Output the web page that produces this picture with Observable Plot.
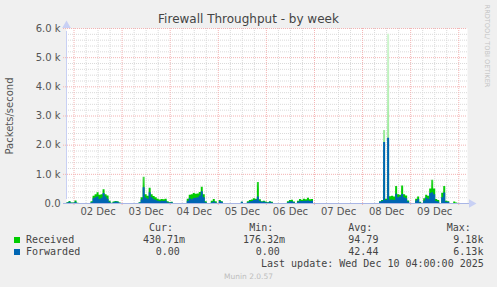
<!DOCTYPE html>
<html><head><meta charset="utf-8">
<script src="https://cdn.jsdelivr.net/npm/d3@7"></script>
<script src="https://cdn.jsdelivr.net/npm/@observablehq/plot@0.6"></script>
<style>
body{margin:0;background:#f0f0f0;}
#wrap{position:relative;width:497px;height:287px;overflow:hidden;background:#f0f0f0;font-family:"DejaVu Sans",sans-serif;}
#wrap svg{position:absolute;left:0;top:0;}
.t{position:absolute;white-space:pre;line-height:10px;}
.mono{font-family:"DejaVu Sans Mono",monospace;font-size:10px;color:#444;}
</style></head><body><div id="wrap"></div>
<script>
// ---- data (packets/second, hourly values, UTC) ----
const seriesNames = ["Received", "Forwarded"];
const seriesColors = ["#00cc00", "#0066b3"];
const dayLabels = ["02 Dec","03 Dec","04 Dec","05 Dec","06 Dec","07 Dec","08 Dec","09 Dec"];
const yTickLabels = ["0.0","1.0 k","2.0 k","3.0 k","4.0 k","5.0 k","6.0 k"];

// Dec 1 starts at 20:00, the other days at 00:00
const recvDec01 = [0, 30, 70, 20];
const fwdDec01  = [0, 20, 40, 10];
const recvDec02 = [20, 90, 10, 0, 0, 0, 0, 0, 0, 60, 250, 300, 370, 280, 300, 470, 300, 260, 80, 10, 50, 70, 60, 20];
const fwdDec02  = [10, 40, 0, 0, 0, 0, 0, 0, 0, 30, 160, 200, 220, 140, 180, 340, 220, 150, 40, 0, 30, 50, 40, 10];
const recvDec03 = [0, 0, 0, 0, 0, 0, 0, 0, 0, 30, 200, 900, 300, 250, 520, 300, 240, 200, 150, 120, 140, 130, 150, 60];
const fwdDec03  = [0, 0, 0, 0, 0, 0, 0, 0, 0, 20, 120, 540, 190, 150, 370, 200, 140, 100, 80, 60, 80, 70, 90, 30];
const recvDec04 = [30, 40, 0, 0, 0, 0, 0, 0, 0, 150, 280, 300, 340, 320, 330, 380, 560, 300, 60, 0, 0, 80, 140, 60];
const fwdDec04  = [20, 30, 0, 0, 0, 0, 0, 0, 0, 80, 160, 130, 170, 180, 200, 260, 400, 200, 30, 0, 0, 30, 60, 20];
const recvDec05 = [0, 100, 60, 0, 0, 0, 0, 0, 0, 0, 0, 0, 40, 0, 0, 60, 100, 120, 160, 150, 720, 130, 60, 80];
const fwdDec05  = [0, 70, 40, 0, 0, 0, 0, 0, 0, 0, 0, 0, 40, 0, 0, 30, 60, 70, 100, 120, 220, 80, 40, 50];
const recvDec06 = [50, 30, 60, 40, 0, 0, 0, 0, 0, 0, 0, 60, 100, 110, 50, 0, 80, 140, 110, 150, 130, 180, 130, 140];
const fwdDec06  = [30, 20, 40, 20, 0, 0, 0, 0, 0, 0, 0, 30, 60, 60, 30, 0, 40, 80, 70, 80, 80, 90, 70, 80];
const recvDec07 = [0, 0, 0, 0, 0, 0, 0, 0, 0, 0, 0, 0, 0, 0, 0, 0, 0, 0, 0, 0, 0, 0, 0, 0];
const fwdDec07  = [0, 0, 0, 0, 0, 0, 0, 0, 0, 0, 0, 0, 0, 0, 0, 0, 0, 0, 0, 0, 0, 0, 0, 0];
const recvDec08 = [0, 0, 0, 0, 0, 0, 0, 0, 0, 60, 100, 2500, 150, 5800, 230, 250, 220, 580, 300, 280, 600, 300, 260, 90];
const fwdDec08  = [0, 0, 0, 0, 0, 0, 0, 0, 0, 50, 80, 2090, 100, 2240, 110, 120, 100, 320, 200, 230, 310, 200, 160, 50];
const recvDec09 = [0, 0, 0, 150, 220, 40, 0, 160, 280, 250, 500, 800, 500, 140, 100, 0, 350, 580, 80, 60, 0, 0, 50, 20];
const fwdDec09  = [0, 0, 0, 90, 140, 20, 0, 90, 190, 150, 340, 370, 300, 70, 50, 0, 200, 360, 40, 40, 0, 0, 0, 0];
const recvDec10 = [0, 0, 0, 0, 0];
const fwdDec10  = [0, 0, 0, 0, 0];

// legend values
const legendHeaders = ["Cur:", "Min:", "Avg:", "Max:"];
const recvStats = ["430.71m", "176.32m", "94.79", "9.18k"];
const fwdStats  = ["0.00", "0.00", "42.44", "6.13k"];
const lastUpdate = "Last update: Wed Dec 10 04:00:00 2025";

// ---- build rows ----
function rows(days) {
  const out = [];
  days.forEach((arr, i) => {
    const day = i + 1, h0 = i === 0 ? 20 : 0;
    arr.forEach((v, j) => out.push({t: new Date(Date.UTC(2025, 11, day, h0 + j)), v}));
  });
  return out;
}
const recvRows = rows([recvDec01, recvDec02, recvDec03, recvDec04, recvDec05, recvDec06, recvDec07, recvDec08, recvDec09, recvDec10]);
const fwdRows  = rows([fwdDec01, fwdDec02, fwdDec03, fwdDec04, fwdDec05, fwdDec06, fwdDec07, fwdDec08, fwdDec09, fwdDec10]);

const xDomain = [new Date(Date.UTC(2025, 11, 1, 20, 15)), new Date(Date.UTC(2025, 11, 10, 4, 22))];
const majorY = d3.range(0, 6001, 1000);
const minorY = d3.range(0, 6001, 200).filter(d => d % 1000 !== 0);
const majorX = d3.utcDay.range(xDomain[0], xDomain[1]);
const minorX = d3.utcHour.every(6).range(xDomain[0], xDomain[1]).filter(d => d.getUTCHours() !== 0);
const noonX = majorX.map(d => new Date(+d + 12 * 3600e3)).filter(d => d < xDomain[1]);

const chart = Plot.plot({
  width: 497, height: 287,
  marginLeft: 66, marginRight: 30, marginTop: 28, marginBottom: 84,
  style: {background: "transparent", fontFamily: "DejaVu Sans, sans-serif", fontSize: "10px", color: "#555", overflow: "visible"},
  x: {type: "utc", domain: xDomain},
  y: {domain: [0, 6000]},
  marks: [
    Plot.frame({fill: "white", stroke: "none"}),
    Plot.ruleY(minorY, {stroke: "#dadada", strokeDasharray: "1,1"}),
    Plot.ruleX(minorX, {stroke: "#dadada", strokeDasharray: "1,1"}),
    Plot.ruleY(majorY, {stroke: "#f3b3b3", strokeDasharray: "1,1", insetLeft: -3}),
    Plot.ruleX(majorX, {stroke: "#f3b3b3", strokeDasharray: "1,1", insetBottom: -3}),
    Plot.areaY(recvRows, {x: "t", y: "v", fill: "url(#recvGrad)", curve: "step", clip: true}),
    Plot.areaY(fwdRows, {x: "t", y: "v", fill: seriesColors[1], curve: "step", clip: true}),
    Plot.ruleX([xDomain[0]], {y1: 0, y2: 6000, stroke: "#c8d0f4", insetTop: -4, insetBottom: -3}),
    Plot.ruleY([0], {stroke: "#a9b6e6", insetLeft: -3, insetRight: -3}),
    Plot.dot([0], {x: () => xDomain[1], y: 0, symbol: "triangle", r: 3.2, fill: "#c8d0f4", stroke: "none", rotate: 90, dx: 4}),
    Plot.dot([0], {x: () => xDomain[0], y: 6000, symbol: "triangle", r: 3.2, fill: "#c8d0f4", stroke: "none", dy: -3}),
    Plot.axisY({ticks: majorY, tickSize: 0, tickPadding: 6, tickFormat: d => yTickLabels[d / 1000], label: null}),
    Plot.axisX({ticks: noonX, tickSize: 0, tickPadding: 4, tickFormat: (d, i) => dayLabels[i], label: null})
  ]
});

// gradient for Received (tall narrow spikes appear pale in the original)
const ys = chart.scale("y");
const svg = d3.select(chart);
const defs = svg.insert("defs", ":first-child");
const g = defs.append("linearGradient").attr("id", "recvGrad").attr("gradientUnits", "userSpaceOnUse")
  .attr("x1", 0).attr("x2", 0).attr("y1", ys.apply(0)).attr("y2", ys.apply(6000));
[[0, "#00cc00"], [450, "#00cc00"], [1200, "#7ee47e"], [3500, "#b4f0b4"], [6000, "#d4f7d4"]]
  .forEach(([v, c]) => g.append("stop").attr("offset", v / 6000).attr("stop-color", c));

const wrap = document.getElementById("wrap");
wrap.appendChild(chart);

function addText(txt, css, cls) {
  const d = document.createElement("div");
  d.className = "t" + (cls ? " " + cls : "");
  d.textContent = txt;
  Object.assign(d.style, css);
  wrap.appendChild(d);
  return d;
}
addText("Firewall Throughput - by week", {left: "0", width: "497px", textAlign: "center", top: "12px", fontSize: "12px", color: "#444", lineHeight: "14px"});
addText("Packets/second", {left: "9.5px", top: "116px", fontSize: "10px", color: "#555", transform: "translate(-50%,-50%) rotate(-90deg)"});
addText("RRDTOOL/ TOBI OETIKER", {left: "487px", top: "46px", fontSize: "6.6px", color: "#c4c4c4", transform: "translate(-50%,-50%) rotate(90deg)"});

const colLeft = [149, 249.3, 348.3, 446.7];
legendHeaders.forEach((h, i) => addText(h, {left: colLeft[i] + "px", top: "223px"}, "mono"));
const recvLeft = [143, 243, 348.3, 453.3];
const fwdLeft  = [155.7, 255.7, 348.3, 453.3];
recvStats.forEach((s, i) => addText(s, {left: recvLeft[i] + "px", top: "235px"}, "mono"));
fwdStats.forEach((s, i) => addText(s, {left: fwdLeft[i] + "px", top: "247px"}, "mono"));
addText(seriesNames[0], {left: "26px", top: "235px"}, "mono");
addText(seriesNames[1], {left: "26px", top: "247px"}, "mono");
[[237, 0], [249, 1]].forEach(([top, i]) => {
  const s = document.createElement("div");
  Object.assign(s.style, {position: "absolute", left: "14px", top: top + "px", width: "6px", height: "6px", background: seriesColors[i]});
  wrap.appendChild(s);
});
addText(lastUpdate, {left: "261px", top: "259px"}, "mono");
addText("Munin 2.0.57", {left: "0", width: "497px", textAlign: "center", top: "272px", fontSize: "7.5px", color: "#bdbdbd"});
</script>
</body></html>
